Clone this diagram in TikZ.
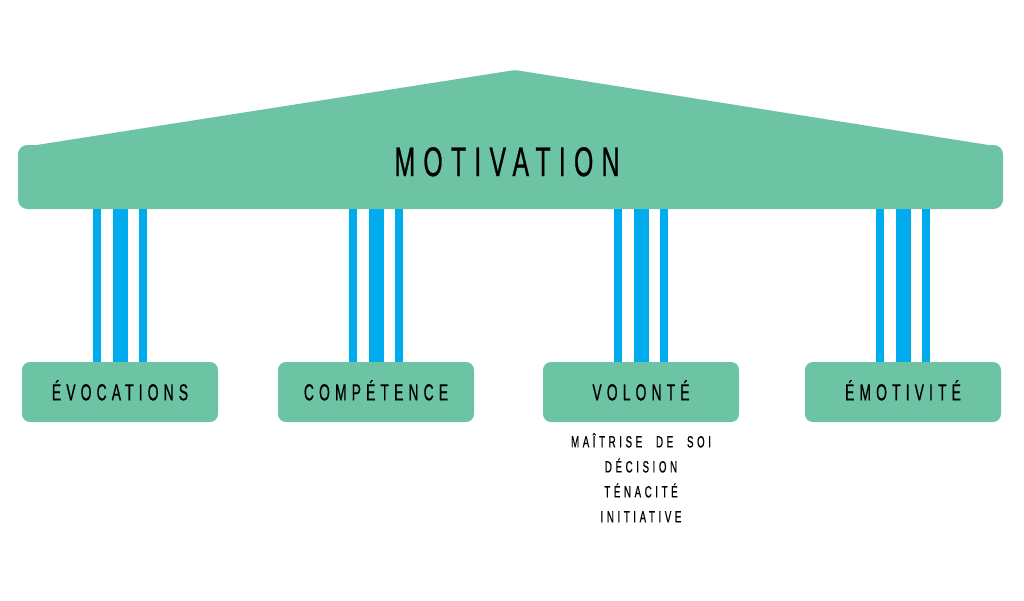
\documentclass[tikz,border=0pt]{standalone}
\usepackage{fontspec}
\usetikzlibrary{positioning}
\newfontfamily\pillarfont[FakeStretch=0.6,FakeBold=0.6,LetterSpace=22,WordSpace=2.2]{Liberation Sans}
\definecolor{roofgreen}{RGB}{108,196,165}
\definecolor{stripeblue}{RGB}{0,172,238}

\begin{document}
\begin{tikzpicture}
    [x=0.75pt,y=-0.75pt,
     box/.style={shape=rectangle,rounded corners=6pt,fill=roofgreen,minimum width=147pt,minimum height=45pt,
       font=\pillarfont\fontsize{17.4}{20}\selectfont,text height=12.5pt,text depth=0pt},
     slimbar/.style={draw=stripeblue,line width=5.6pt},
     widebar/.style={draw=stripeblue,line width=11.25pt}]
    \useasboundingbox (0,0) rectangle (1024,600);
    % roof
    \node [shape=rectangle,rounded corners=7pt,fill=roofgreen,minimum width=738.75pt,minimum height=48pt] (roof) at (510.5,177) {};
    \coordinate (apex) at (515,70);
    \fill [roofgreen,rounded corners=2pt] ([xshift=9pt,yshift=-1pt]roof.north west) -- (apex) -- ([xshift=-6pt,yshift=-1pt]roof.north east) -- cycle;
    \node [font=\pillarfont\fontsize{31}{36}\selectfont\addfontfeature{LetterSpace=20},text height=22.5pt,text depth=0pt] (title) at (507,161) {MOTIVATION};
    % bases
    \node [box] (evoc) at (120,392) {ÉVOCATIONS};
    \node [box] (comp) at (376,392) {COMPÉTENCE};
    \node [box] (vol) at (641,392) {VOLONTÉ};
    \node [box] (emo) at (903,392) {ÉMOTIVITÉ};
    \node [font=\pillarfont\fontsize{12.2}{18.75}\selectfont,align=center,inner sep=0pt,below=8pt of vol] (volnotes)
      {MAÎTRISE DE SOI\\DÉCISION\\TÉNACITÉ\\INITIATIVE};
    % pillars
    \foreach \b in {evoc,comp,vol,emo} {
      \draw [slimbar] ([xshift=-17.1pt]\b.north) -- ([xshift=-17.1pt]\b.north |- roof.south);
      \draw [widebar] (\b.north) -- (\b.north |- roof.south);
      \draw [slimbar] ([xshift=17.1pt]\b.north) -- ([xshift=17.1pt]\b.north |- roof.south);
    }
  \end{tikzpicture}
\end{document}
